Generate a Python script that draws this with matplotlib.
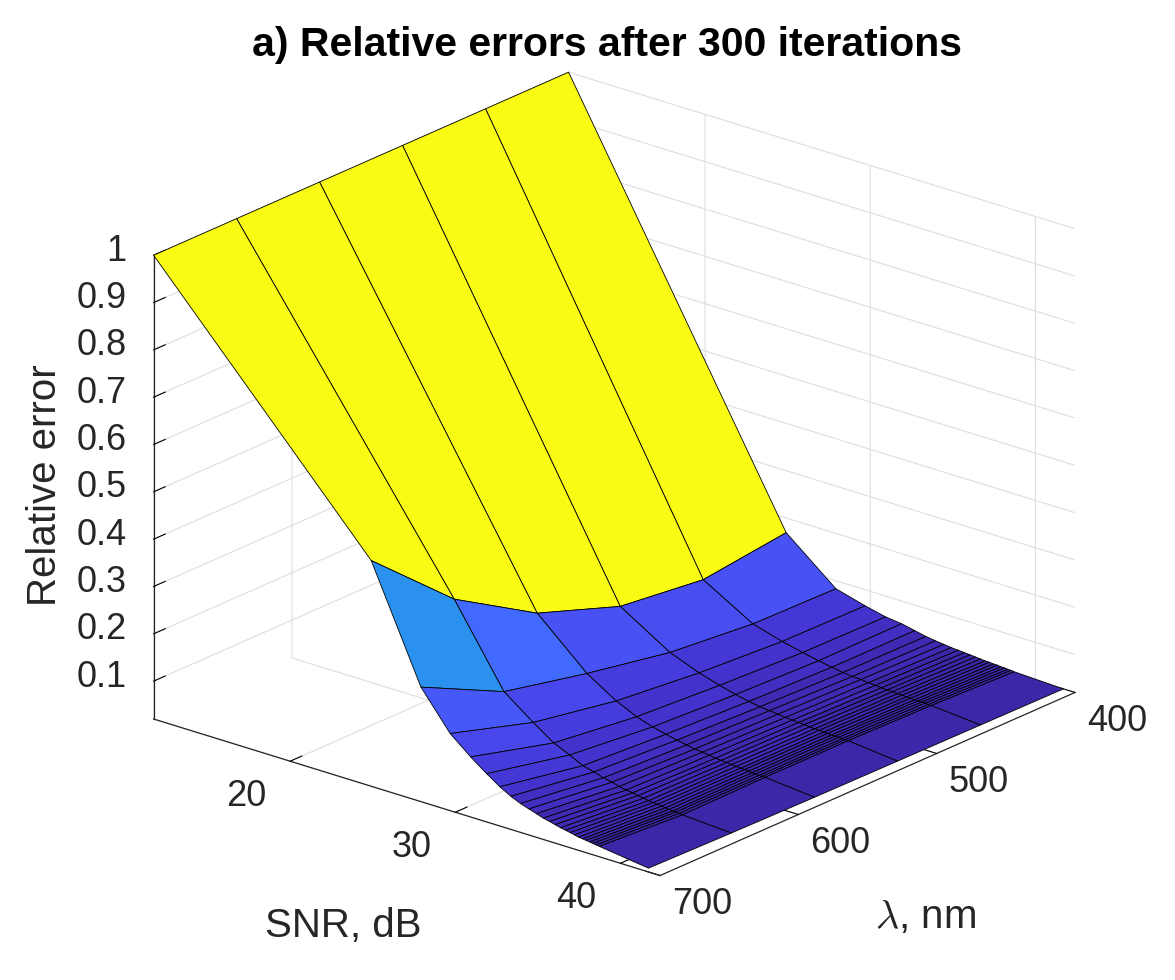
import numpy as np
import matplotlib
matplotlib.use('Agg')
import matplotlib.pyplot as plt
import matplotlib.transforms as mtransforms
from matplotlib.colors import ListedColormap, Normalize
from mpl_toolkits.mplot3d import proj3d

plt.rcParams['font.family'] = ['Liberation Sans', 'DejaVu Sans']
plt.rcParams['mathtext.fontset'] = 'cm'

# wavelength (nm) and SNR (dB) grid of the surface
lam = [400, 460, 520, 580, 640, 700]
snr = [11.73, 24.91, 27.92, 29.69, 30.93, 31.90, 32.70, 33.37, 33.95, 34.46,
       34.91, 35.33, 35.71, 36.05, 36.38, 36.68, 36.96, 37.22, 37.47, 37.70,
       37.92, 38.14, 38.34, 38.53, 38.72, 41.70]

# relative error, one row per SNR value, columns follow lam
rel_err = [
    [1.000, 1.000, 1.000, 1.000, 1.000, 1.000],
    [0.169, 0.147, 0.168, 0.231, 0.338, 0.497],
    [0.083, 0.086, 0.103, 0.136, 0.175, 0.262],
    [0.066, 0.068, 0.079, 0.097, 0.129, 0.183],
    [0.056, 0.058, 0.066, 0.077, 0.099, 0.147],
    [0.052, 0.051, 0.057, 0.066, 0.084, 0.122],
    [0.046, 0.046, 0.051, 0.059, 0.070, 0.103],
    [0.041, 0.042, 0.047, 0.054, 0.064, 0.090],
    [0.038, 0.040, 0.045, 0.050, 0.058, 0.081],
    [0.036, 0.039, 0.043, 0.047, 0.054, 0.075],
    [0.034, 0.037, 0.041, 0.045, 0.050, 0.070],
    [0.033, 0.036, 0.040, 0.043, 0.047, 0.065],
    [0.032, 0.035, 0.039, 0.041, 0.045, 0.062],
    [0.031, 0.034, 0.038, 0.040, 0.043, 0.059],
    [0.030, 0.034, 0.037, 0.039, 0.041, 0.056],
    [0.029, 0.033, 0.036, 0.038, 0.039, 0.054],
    [0.028, 0.033, 0.036, 0.037, 0.038, 0.052],
    [0.028, 0.032, 0.035, 0.036, 0.037, 0.050],
    [0.027, 0.032, 0.035, 0.036, 0.036, 0.048],
    [0.027, 0.031, 0.034, 0.035, 0.035, 0.047],
    [0.026, 0.031, 0.034, 0.034, 0.034, 0.046],
    [0.026, 0.031, 0.034, 0.034, 0.033, 0.045],
    [0.025, 0.031, 0.033, 0.033, 0.033, 0.044],
    [0.025, 0.030, 0.033, 0.033, 0.032, 0.043],
    [0.024, 0.030, 0.033, 0.033, 0.031, 0.042],
    [0.020, 0.021, 0.022, 0.023, 0.025, 0.028],
]

z_ticks = [0.1, 0.2, 0.3, 0.4, 0.5, 0.6, 0.7, 0.8, 0.9, 1.0]
z_ticklabels = ['0.1', '0.2', '0.3', '0.4', '0.5', '0.6', '0.7', '0.8', '0.9', '1']
snr_ticks = [20, 30, 40]
lam_ticks = [400, 500, 600, 700]
snr_lim = (11.73, 42.4)

# MATLAB parula (64 entries)
parula = [
    [0.2422, 0.1504, 0.6603], [0.2504, 0.1650, 0.7076], [0.2578, 0.1818, 0.7511],
    [0.2647, 0.1978, 0.7952], [0.2706, 0.2147, 0.8364], [0.2751, 0.2342, 0.8710],
    [0.2783, 0.2559, 0.8991], [0.2803, 0.2782, 0.9221], [0.2813, 0.3006, 0.9414],
    [0.2810, 0.3228, 0.9579], [0.2795, 0.3447, 0.9717], [0.2760, 0.3667, 0.9829],
    [0.2699, 0.3892, 0.9906], [0.2602, 0.4123, 0.9952], [0.2440, 0.4358, 0.9988],
    [0.2206, 0.4603, 0.9973], [0.1963, 0.4847, 0.9892], [0.1834, 0.5074, 0.9798],
    [0.1786, 0.5289, 0.9682], [0.1764, 0.5499, 0.9520], [0.1687, 0.5703, 0.9359],
    [0.1540, 0.5902, 0.9218], [0.1460, 0.6091, 0.9079], [0.1380, 0.6276, 0.8973],
    [0.1248, 0.6459, 0.8883], [0.1113, 0.6635, 0.8763], [0.0952, 0.6798, 0.8598],
    [0.0689, 0.6948, 0.8394], [0.0297, 0.7082, 0.8163], [0.0036, 0.7203, 0.7917],
    [0.0067, 0.7312, 0.7660], [0.0433, 0.7411, 0.7394], [0.0964, 0.7500, 0.7120],
    [0.1408, 0.7584, 0.6842], [0.1717, 0.7670, 0.6554], [0.1938, 0.7758, 0.6251],
    [0.2161, 0.7843, 0.5923], [0.2470, 0.7918, 0.5567], [0.2906, 0.7973, 0.5188],
    [0.3406, 0.8008, 0.4789], [0.3909, 0.8029, 0.4354], [0.4456, 0.8024, 0.3909],
    [0.5044, 0.7993, 0.3480], [0.5616, 0.7942, 0.3045], [0.6174, 0.7876, 0.2612],
    [0.6720, 0.7793, 0.2227], [0.7242, 0.7698, 0.1910], [0.7738, 0.7598, 0.1646],
    [0.8203, 0.7498, 0.1535], [0.8634, 0.7406, 0.1596], [0.9035, 0.7330, 0.1774],
    [0.9393, 0.7288, 0.2100], [0.9728, 0.7298, 0.2394], [0.9956, 0.7434, 0.2371],
    [0.9970, 0.7659, 0.2199], [0.9952, 0.7893, 0.2028], [0.9892, 0.8136, 0.1885],
    [0.9786, 0.8386, 0.1766], [0.9676, 0.8639, 0.1643], [0.9610, 0.8890, 0.1537],
    [0.9597, 0.9135, 0.1423], [0.9628, 0.9373, 0.1265], [0.9691, 0.9606, 0.1064],
    [0.9769, 0.9839, 0.0805],
]
cmap = ListedColormap(parula)

L, S = np.meshgrid(lam, snr)
Z = np.array(rel_err)
zmin = Z.min()
norm = Normalize(vmin=zmin, vmax=Z.max())
# MATLAB faceted shading: each face takes the colour of its first corner
fc = cmap(norm(Z))

W, H = 1175, 980
fig = plt.figure(figsize=(W / 100, H / 100), dpi=100)
ax = fig.add_axes([0.1, 0.1, 0.8, 0.8], projection='3d')
ax.set_proj_type('ortho')
ax.view_init(elev=21.67, azim=39.93)
ax.set_box_aspect((646.5, 660.4, 499))

ax.plot_surface(L, S, Z, facecolors=fc, edgecolor='k', linewidth=0.6,
                rstride=1, cstride=1, shade=False, antialiased=True)

ax.set_xlim(400, 700)
ax.set_ylim(*snr_lim)
ax.set_zlim(zmin, 1.0)
ax.set_xticks(lam_ticks)
ax.set_yticks(snr_ticks)
ax.set_zticks(z_ticks)
ax.set_xticklabels([])
ax.set_yticklabels([])
ax.set_zticklabels([])

axc = (0.15, 0.15, 0.15)
for a in (ax.xaxis, ax.yaxis, ax.zaxis):
    a.pane.fill = False
    a.pane.set_edgecolor('none')
    a.line.set_color(axc)
    a.line.set_linewidth(0.9)
    a._axinfo['grid']['color'] = (0.87, 0.87, 0.87, 1.0)
    a._axinfo['grid']['linewidth'] = 0.8
    a._axinfo['tick']['inward_factor'] = 0.0
    a._axinfo['tick']['outward_factor'] = 0.35
    a._axinfo['tick']['color'] = axc

# place the axes box so its corners land where the reference has them
fig.canvas.draw()
M = ax.get_proj()


def to_pix(x, y, z):
    x2, y2, _ = proj3d.proj_transform(x, y, z, M)
    return np.asarray(ax.transData.transform((x2, y2)))


pl = to_pix(700, snr_lim[0], zmin)   # left corner
pr = to_pix(400, snr_lim[1], zmin)   # right corner
bb = ax.get_position()
side = bb.width * W
cx, cy = (bb.x0 + bb.width / 2) * W, (bb.y0 + bb.height / 2) * H
ul = (pl - [cx, cy]) / side
ur = (pr - [cx, cy]) / side
tl = np.array([153.6, H - 719.0])
tr = np.array([1075.0, H - 693.0])
new_side = (tr[0] - tl[0]) / (ur[0] - ul[0])
ncx = tl[0] - ul[0] * new_side
ncy = tl[1] - ul[1] * new_side
ax.set_position([(ncx - new_side / 2) / W, (ncy - new_side / 2) / H,
                 new_side / W, new_side / H])
fig.canvas.draw()
M = ax.get_proj()

pix = mtransforms.IdentityTransform()
tick_fs = 26
label_fs = 29

for v in snr_ticks:
    px, py = to_pix(700, v, zmin)
    fig.text(px - 44, py - 35, str(v), transform=pix, ha='center', va='center',
             fontsize=tick_fs, color=axc)
for v in lam_ticks:
    px, py = to_pix(v, snr_lim[1], zmin)
    fig.text(px + 42, py - 29, str(v), transform=pix, ha='center', va='center',
             fontsize=tick_fs, color=axc)
for v, s in zip(z_ticks, z_ticklabels):
    px, py = to_pix(700, snr_lim[0], v)
    fig.text(px - 27, py + 4, s, transform=pix, ha='right', va='center',
             fontsize=tick_fs, color=axc)

fig.text(343, H - 937, 'SNR, dB', transform=pix, ha='center', va='baseline',
         fontsize=label_fs, color=axc)
fig.text(926, H - 928, r'$\lambda$, nm', transform=pix, ha='center',
         va='baseline', fontsize=label_fs, color=axc)
fig.text(45, H - 485, 'Relative error', transform=pix, ha='center',
         va='center', rotation=90, fontsize=label_fs, color=axc)

fig.text(607 / W, 1 - 45 / H, 'a) Relative errors after 300 iterations',
         ha='center', va='center', fontsize=29.5, fontweight='bold')

fig.savefig('out.png', dpi=100)
